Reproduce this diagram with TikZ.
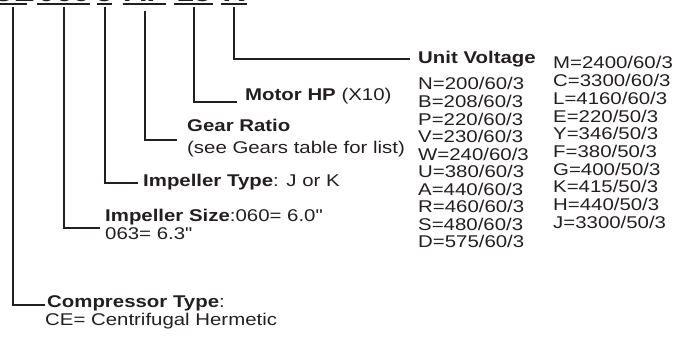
\documentclass[tikz,border=0pt]{standalone}
\usepackage{fontspec}
\setmainfont{Liberation Sans}[Ligatures=TeXOff]
\usetikzlibrary{calc}
\definecolor{ink}{RGB}{35,31,32}
\newcommand\wide[1]{\scalebox{1.2}[1]{#1}}
\tikzset{
  conn/.style={draw=ink, line width=1.9pt},
  ul/.style={draw=ink, line width=1.9pt},
  lbl/.style={anchor=base west, inner sep=0pt, text=ink, font=\fontsize{17}{17.6}\selectfont},
  code/.style={anchor=base, inner sep=0pt, text=ink, font=\fontsize{26}{26}\selectfont\bfseries}
}
\begin{document}
\begin{tikzpicture}[x=1pt,y=-1pt]
\useasboundingbox (0,0) rectangle (678,342);
\clip (0,0) rectangle (678,342);
% model code (cut off at the top)
\node[code] (k1) at (13,1.5) {\wide{CE}};
\node[code] (k2) at (64,1.5) {\wide{060}};
\node[code] (k3) at (105,1.5) {\wide{J}};
\node[code] (k4) at (145,1.5) {\wide{AF}};
\node[code] (k5) at (194,1.5) {\wide{15}};
\node[code] (k6) at (234,1.5) {\wide{K}};
\draw[ul] ([xshift=-14pt,yshift=-2.5pt]k1.base) -- ([xshift=14pt,yshift=-2.5pt]k1.base);
\draw[ul] ([xshift=-27pt,yshift=-2.5pt]k2.base) -- ([xshift=26pt,yshift=-2.5pt]k2.base);
\draw[ul] ([xshift=-8pt,yshift=-2.5pt]k3.base) -- ([xshift=7pt,yshift=-2.5pt]k3.base);
\draw[ul] ([xshift=-22pt,yshift=-2.5pt]k4.base) -- ([xshift=21pt,yshift=-2.5pt]k4.base);
\draw[ul] ([xshift=-20pt,yshift=-2.5pt]k5.base) -- ([xshift=19pt,yshift=-2.5pt]k5.base);
\draw[ul] ([xshift=-13pt,yshift=-2.5pt]k6.base) -- ([xshift=13pt,yshift=-2.5pt]k6.base);
% labels
\node[lbl] (uv) at (418,64) {\wide{\bfseries Unit Voltage}};
\node[lbl] (mhp) at (245,101) {\wide{\textbf{Motor HP} (X10)}};
\node[lbl] (gr) at (187,132) {\wide{\bfseries Gear Ratio}};
\node[lbl] (grb) at (187,154) {\wide{(see Gears table for list)}};
\node[lbl] (it) at (143,187) {\wide{\textbf{Impeller Type}: J or K}};
\node[lbl] (is) at (105,222) {\wide{\textbf{Impeller Size}:060= 6.0"}};
\node[lbl] (isb) at (105,240) {\wide{063= 6.3"}};
\node[lbl] (ct) at (47,307) {\wide{\textbf{Compressor Type}:}};
\node[lbl] (ctb) at (45,325) {\wide{CE= Centrifugal Hermetic}};
% voltage list
\foreach \t [count=\i] in {N=200/60/3,B=208/60/3,P=220/60/3,V=230/60/3,W=240/60/3,U=380/60/3,A=440/60/3,R=460/60/3,S=480/60/3,D=575/60/3}
  \node[lbl] (va\i) at (418,{90+17.55*(\i-1)}) {\wide{\t}};
\foreach \t [count=\i] in {M=2400/60/3,C=3300/60/3,L=4160/60/3,E=220/50/3,Y=346/50/3,F=380/50/3,G=400/50/3,K=415/50/3,H=440/50/3,J=3300/50/3}
  \node[lbl] (vb\i) at (553,{69+17.7*(\i-1)}) {\wide{\t}};
% connectors
\draw[conn] ([yshift=-6pt]k6.base) |- ([xshift=-8pt,yshift=5pt]uv.base west);
\draw[conn] ([yshift=-6pt]k5.base) |- ([xshift=-8pt,yshift=-1pt]mhp.base west);
\draw[conn] ([yshift=-10pt]k4.base) |- ([xshift=-10pt,yshift=-8pt]gr.base west);
\draw[conn] ([yshift=-6pt]k3.base) |- ([xshift=-5pt,yshift=4pt]it.base west);
\draw[conn] ([yshift=-6pt]k2.base) |- ([xshift=-5pt,yshift=-6pt]is.base west);
\draw[conn] ([yshift=-6pt]k1.base) |- ([xshift=-2pt,yshift=2pt]ct.base west);
\end{tikzpicture}
\end{document}
